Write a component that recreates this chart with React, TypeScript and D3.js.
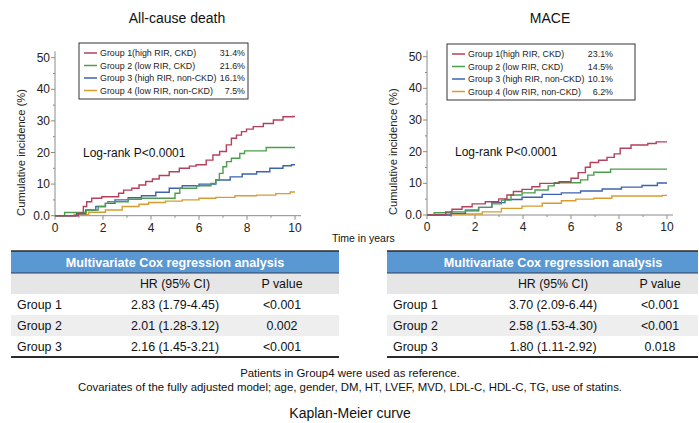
import * as d3 from "d3";
import { useEffect, useRef } from "react";

type Pt = [number, number];

const yearTicks = [0, 2, 4, 6, 8, 10];
const yearMinor = [1, 3, 5, 7, 9];
const incTicks = [0, 10, 20, 30, 40, 50];
const incMinor = [5, 15, 25, 35, 45];

const groupNames = [
  "Group 1(high RIR, CKD)",
  "Group 2 (low RIR, CKD)",
  "Group 3 (high RIR, non-CKD)",
  "Group 4 (low RIR, non-CKD)",
];
const groupColors = ["#b4405c", "#4c9e4c", "#3d63b0", "#d89c30"];
const deathFinal = ["31.4%", "21.6%", "16.1%", "7.5%"];
const maceFinal = ["23.1%", "14.5%", "10.1%", "6.2%"];

// all-cause death, [years, %]
const deathG1: Pt[] = [[0, 0], [0.97, 0.8], [1.18, 2.9], [1.32, 4.4], [1.53, 5.5], [1.95, 6.0], [2.65, 7.1], [2.86, 8.1], [3.2, 8.7], [3.5, 9.7], [3.78, 10.8], [4.06, 11.6], [4.34, 12.7], [4.76, 13.9], [5.18, 15.0], [5.6, 15.7], [5.88, 16.1], [6.3, 17.6], [6.58, 19.2], [6.86, 20.3], [7.14, 22.4], [7.35, 24.5], [7.56, 25.5], [7.77, 26.6], [7.98, 27.4], [8.26, 28.2], [8.68, 29.2], [9.1, 30.3], [9.5, 31.3], [9.9, 31.4], [10, 31.4]];
const deathG2: Pt[] = [[0, 0], [0.4, 1.0], [1.3, 1.8], [1.8, 2.9], [2.1, 3.9], [2.2, 4.4], [3.05, 5.2], [3.6, 5.5], [5.0, 7.1], [5.2, 8.7], [5.9, 9.5], [6.5, 10.2], [6.7, 11.3], [6.85, 13.4], [7.0, 15.5], [7.15, 17.1], [7.35, 18.2], [7.7, 19.7], [7.9, 20.5], [8.8, 21.6], [10, 21.6]];
const deathG3: Pt[] = [[0, 0], [0.9, 0.6], [1.28, 1.8], [1.7, 2.9], [2.1, 3.9], [2.5, 5.0], [3.05, 5.7], [3.6, 6.3], [4.2, 7.4], [4.76, 8.7], [5.3, 9.5], [6.0, 10.0], [6.7, 11.3], [7.3, 12.3], [7.8, 13.2], [8.4, 13.9], [8.95, 15.0], [9.5, 15.8], [9.85, 16.1], [10, 16.1]];
const deathG4: Pt[] = [[0, 0], [0.8, 0.4], [1.4, 1.1], [2.1, 1.8], [2.8, 2.9], [3.5, 3.6], [3.9, 4.2], [4.6, 4.6], [5.3, 5.0], [6.0, 5.5], [6.7, 5.8], [7.5, 6.3], [8.4, 6.5], [9.2, 7.0], [9.8, 7.5], [10, 7.5]];

// MACE, [years, %]
const maceG1: Pt[] = [[0, 0], [0.78, 1.0], [1.04, 1.8], [1.46, 2.6], [1.88, 3.5], [2.43, 4.2], [2.99, 5.1], [3.33, 6.3], [3.6, 7.4], [3.96, 8.1], [4.37, 8.9], [4.7, 10.0], [5.5, 10.5], [6.0, 11.6], [6.3, 13.4], [6.6, 15.1], [6.8, 16.6], [7.15, 17.3], [7.5, 18.2], [7.8, 19.3], [8.05, 21.1], [8.5, 22.1], [9.2, 22.6], [9.55, 23.1], [10, 23.1]];
const maceG2: Pt[] = [[0, 0], [0.3, 0.7], [1.04, 1.0], [1.6, 1.6], [2.15, 2.4], [2.7, 3.5], [3.1, 4.7], [3.5, 6.3], [3.96, 7.0], [4.5, 7.9], [5.05, 9.2], [5.3, 10.2], [6.4, 11.1], [6.7, 12.6], [6.95, 13.5], [7.65, 14.5], [10, 14.5]];
const maceG3: Pt[] = [[0, 0], [1.0, 0.5], [1.6, 1.3], [2.15, 2.4], [2.7, 3.9], [3.25, 4.9], [3.96, 5.6], [4.8, 6.5], [5.6, 7.0], [6.4, 7.6], [7.3, 8.2], [8.1, 8.8], [8.96, 9.3], [9.6, 10.1], [10, 10.1]];
const maceG4: Pt[] = [[0, 0], [1.0, 0.3], [2.3, 1.0], [3.1, 2.1], [3.96, 2.8], [4.8, 3.7], [5.6, 4.5], [6.2, 5.0], [6.95, 5.3], [7.7, 6.0], [9.8, 6.2], [10, 6.2]];

// Cox tables
const rowLabels = ["Group 1", "Group 2", "Group 3"];
const deathHR = ["2.83 (1.79-4.45)", "2.01 (1.28-3.12)", "2.16 (1.45-3.21)"];
const deathP = ["<0.001", "0.002", "<0.001"];
const maceHR = ["3.70 (2.09-6.44)", "2.58 (1.53-4.30)", "1.80 (1.11-2.92)"];
const maceP = ["<0.001", "<0.001", "0.018"];

const FONT = "'Liberation Sans', Arial, Helvetica, sans-serif";

function drawKM(g, opt) {
  const x = d3.scaleLinear().domain([0, 10]).range([opt.left, opt.right]);
  const y = d3.scaleLinear().domain([0, 50]).range([opt.bottom, opt.top]);
  const axisColor = "#8a8a8a";

  g.append("text")
    .attr("x", opt.titleX).attr("y", 23)
    .attr("text-anchor", "middle").attr("font-size", 14).attr("fill", "#111")
    .text(opt.title);

  // axes
  g.append("line").attr("x1", x(0)).attr("x2", x(0)).attr("y1", y(0)).attr("y2", y(52))
    .attr("stroke", axisColor);
  g.append("line").attr("x1", x(0)).attr("x2", x(10.25)).attr("y1", y(0)).attr("y2", y(0))
    .attr("stroke", axisColor);

  g.selectAll(".yt").data(incTicks).enter().append("line")
    .attr("x1", x(0) - 4).attr("x2", x(0)).attr("y1", d => y(d)).attr("y2", d => y(d))
    .attr("stroke", axisColor);
  g.selectAll(".ym").data(incMinor).enter().append("line")
    .attr("x1", x(0) - 2).attr("x2", x(0)).attr("y1", d => y(d)).attr("y2", d => y(d))
    .attr("stroke", axisColor);
  g.selectAll(".xt").data(yearTicks).enter().append("line")
    .attr("x1", d => x(d)).attr("x2", d => x(d)).attr("y1", y(0)).attr("y2", y(0) + 4)
    .attr("stroke", axisColor);
  g.selectAll(".xm").data(yearMinor).enter().append("line")
    .attr("x1", d => x(d)).attr("x2", d => x(d)).attr("y1", y(0)).attr("y2", y(0) + 2)
    .attr("stroke", axisColor);

  g.selectAll(".yl").data(incTicks).enter().append("text")
    .attr("x", x(0) - 5).attr("y", d => y(d) + 4)
    .attr("text-anchor", "end").attr("font-size", 12).attr("fill", "#222")
    .text(d => (d === 0 ? "0.0" : d));
  g.selectAll(".xl").data(yearTicks).enter().append("text")
    .attr("x", d => x(d)).attr("y", y(0) + 16)
    .attr("text-anchor", "middle").attr("font-size", 12).attr("fill", "#222")
    .text(d => d);

  g.append("text")
    .attr("transform", `translate(${opt.left - 30},${y(20)}) rotate(-90)`)
    .attr("text-anchor", "middle").attr("font-size", 11.2).attr("fill", "#222")
    .text("Cumulative incidence (%)");

  // curves
  const line = d3.line<Pt>().x(d => x(d[0])).y(d => y(d[1])).curve(d3.curveStepAfter);
  opt.series.slice().reverse().forEach((s, i) => {
    g.append("path").attr("d", line(s)).attr("fill", "none")
      .attr("stroke", groupColors[opt.series.length - 1 - i]).attr("stroke-width", 1.4);
  });

  g.append("text")
    .attr("x", opt.left + 28).attr("y", y(20) + 4)
    .attr("font-size", 12).attr("fill", "#111")
    .text("Log-rank P<0.0001");

  // legend
  const lg = g.append("g").attr("transform", `translate(${opt.legendX},${opt.legendY})`);
  lg.append("rect").attr("width", opt.legendW).attr("height", 56)
    .attr("fill", "#fff").attr("stroke", "#333").attr("stroke-width", 1);
  groupNames.forEach((name, i) => {
    const ly = 10 + i * 12.5;
    lg.append("line").attr("x1", 5).attr("x2", 18).attr("y1", ly).attr("y2", ly)
      .attr("stroke", groupColors[i]).attr("stroke-width", 1.5);
    lg.append("text").attr("x", 21).attr("y", ly + 3.2).attr("font-size", 8.9).attr("fill", "#222")
      .text(name);
    lg.append("text").attr("x", 166).attr("y", ly + 3.2).attr("text-anchor", "end")
      .attr("font-size", 8.9).attr("fill", "#222").text(opt.finals[i]);
  });
}

function drawTable(g, opt) {
  const rowH = 21;
  const top = 251;
  const w = opt.x1 - opt.x0;
  g.append("rect").attr("x", opt.x0).attr("y", top).attr("width", w).attr("height", 22)
    .attr("fill", "#5a98d4");
  g.append("rect").attr("x", opt.x0).attr("y", top + 22).attr("width", w).attr("height", rowH)
    .attr("fill", "#e6e6e6");
  g.append("rect").attr("x", opt.x0).attr("y", top + 22 + rowH * 2).attr("width", w).attr("height", rowH)
    .attr("fill", "#eeeeee");
  g.append("line").attr("x1", opt.x0).attr("x2", opt.x1).attr("y1", top).attr("y2", top)
    .attr("stroke", "#2b2b2b").attr("stroke-width", 1.5);
  g.append("line").attr("x1", opt.x0).attr("x2", opt.x1).attr("y1", top + 22).attr("y2", top + 22)
    .attr("stroke", "#2b3d55").attr("stroke-width", 1);
  g.append("line").attr("x1", opt.x0).attr("x2", opt.x1)
    .attr("y1", top + 22 + rowH * 4).attr("y2", top + 22 + rowH * 4)
    .attr("stroke", "#2b2b2b").attr("stroke-width", 2);

  g.append("text").attr("x", opt.hrX).attr("y", top + 16)
    .attr("text-anchor", "middle").attr("font-size", 12.6).attr("font-weight", "bold")
    .attr("fill", "#fff").text("Multivariate Cox regression analysis");
  g.append("text").attr("x", opt.hrX).attr("y", top + 22 + 15)
    .attr("text-anchor", "middle").attr("font-size", 12.4).attr("fill", "#111").text("HR (95% CI)");
  g.append("text").attr("x", opt.pX).attr("y", top + 22 + 15)
    .attr("text-anchor", "middle").attr("font-size", 12.4).attr("fill", "#111").text("P value");

  rowLabels.forEach((lab, i) => {
    const ty = top + 22 + rowH * (i + 1) + 15;
    g.append("text").attr("x", opt.x0 + 6).attr("y", ty).attr("font-size", 12.4).attr("fill", "#111").text(lab);
    g.append("text").attr("x", opt.hrX).attr("y", ty).attr("text-anchor", "middle")
      .attr("font-size", 12.4).attr("fill", "#111").text(opt.hr[i]);
    g.append("text").attr("x", opt.pX).attr("y", ty).attr("text-anchor", "middle")
      .attr("font-size", 12.4).attr("fill", "#111").text(opt.p[i]);
  });
}

const App = () => {
  const ref = useRef<SVGSVGElement>(null);

  useEffect(() => {
    const svg = d3.select(ref.current);
    svg.selectAll("*").remove();
    const g = svg.append("g").attr("font-family", FONT);

    drawKM(g, {
      left: 55, right: 295, top: 57.7, bottom: 215.7, titleX: 177,
      title: "All-cause death", legendX: 79, legendY: 43, legendW: 169,
      series: [deathG1, deathG2, deathG3, deathG4], finals: deathFinal,
    });
    drawKM(g, {
      left: 427, right: 667, top: 56.7, bottom: 215, titleX: 550,
      title: "MACE", legendX: 447, legendY: 44, legendW: 188,
      series: [maceG1, maceG2, maceG3, maceG4], finals: maceFinal,
    });

    g.append("text").attr("x", 332).attr("y", 242).attr("font-size", 10.5).attr("fill", "#111")
      .text("Time in years");

    drawTable(g, { x0: 11, x1: 339, hrX: 175, pX: 282, hr: deathHR, p: deathP });
    drawTable(g, { x0: 387, x1: 698, hrX: 553, pX: 660, hr: maceHR, p: maceP });

    g.append("text").attr("x", 350).attr("y", 377).attr("text-anchor", "middle")
      .attr("font-size", 11.4).attr("fill", "#111").text("Patients in Group4 were used as reference.");
    g.append("text").attr("x", 350).attr("y", 391).attr("text-anchor", "middle")
      .attr("font-size", 11.4).attr("fill", "#111")
      .text("Covariates of the fully adjusted model; age, gender, DM, HT, LVEF, MVD, LDL-C, HDL-C, TG, use of statins.");
    g.append("text").attr("x", 350).attr("y", 418).attr("text-anchor", "middle")
      .attr("font-size", 14).attr("fill", "#111").text("Kaplan-Meier curve");
  }, []);

  return (
    <svg ref={ref} width={699} height={423}
      style={{ position: "absolute", left: 0, top: 0, background: "#fff" }} />
  );
};

export default App;
